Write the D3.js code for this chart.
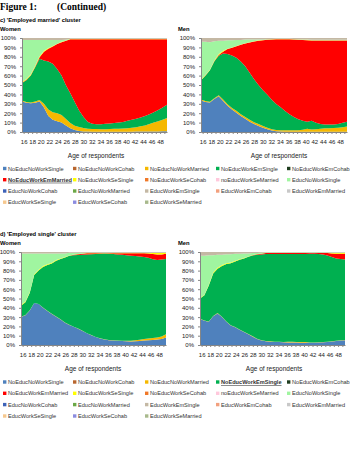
<!DOCTYPE html>
<html>
<head>
<meta charset="utf-8">
<title>Figure 1 (Continued)</title>
<script src="https://cdn.jsdelivr.net/npm/d3@7/dist/d3.min.js"></script>
<style>
body { margin: 0; background: #fff; }
svg text { font-family: "Liberation Sans", Arial, sans-serif; }
</style>
</head>
<body>
<div id="chart"></div>
<script>
// categories and tick labels
var ages = [16,17,18,19,20,21,22,23,24,25,26,27,28,29,30,31,32,33,34,35,36,37,38,39,40,41,42,43,44,45,46,47,48,49];
var xTickLabels = [16,18,20,22,24,26,28,30,32,34,36,38,40,42,44,46,48];
var yTickValues = [0,0.1,0.2,0.3,0.4,0.5,0.6,0.7,0.8,0.9,1];

var seriesNames = ["NoEducNoWorkSingle","NoEducNoWorkCohab","NoEducNoWorkMarried","NoEducWorkEmSingle","NoEducWorkEmCohab",
  "NoEducWorkEmMarried","NoEducWorkSeSingle","NoEducWorkSeCohab","noEducWorkSeMarried","EducNoWorkSingle",
  "EducNoWorkCohab","EducNoWorkMarried","EducWorkEmSingle","EducWorkEmCohab","EducWorkEmMarried",
  "EducWorkSeSingle","EducWorkSeCohab","EducWorkSeMarried"];
var seriesColors = ["#4f81bd","#b8662e","#f5b800","#00b050","#1f3d1f",
  "#ff0000","#ffff00","#f07828","#ffc8dc","#a0f5a0",
  "#3d62b8","#6ba846","#c4b8a4","#f2a07e","#c8c8c8",
  "#f6c88e","#8c8ce0","#a8b98c"];

// c) 'Employed married' cluster, women (% of respondents by age)
var cWomenNoEducNoWorkSingle = [32.5,31,30.5,31,32.5,26,17,13,11.5,10,7,4,2,1,0.5,0.4,0.3,0.3,0.3,0.3,0.3,0.3,0.3,0.3,0.3,0.3,0.4,0.4,0.4,0.5,0.5,0.6,0.7,0.8];
var cWomenNoEducNoWorkMarried = [1,1,1,1.5,1.5,4,7,8,8.5,8,7,5.5,4.7,4.3,3.7,3.1,2.9,2.9,2.7,2.7,2.9,3.2,3.2,3.5,3.7,4.2,4.6,5.6,6.6,8,9.5,10.9,12.3,14.2];
var cWomenNoEducWorkEmSingle = [18.5,23,28.5,36.5,44,46,51,51.5,47,42,36,31.5,25.3,17.7,11.8,7.1,5.7,5,5.2,5.9,5.8,6.1,6.5,6.8,8,8.5,9,9.5,10,10.5,11,12,13,14];
var cWomenNoEducWorkEmMarried = [0.3,0.5,0.5,0.5,1.5,9.5,13.5,18.5,26.5,35.5,47.5,57.3,66.8,75.8,82.8,88.2,89.9,90.6,90.6,89.9,89.8,89.2,88.8,88.2,86.8,85.8,84.8,83.3,81.8,79.8,77.8,75.3,72.8,69.8];
var cWomenNoEducWorkSeSingle = [0.8,0.8,1,1,1.2,1,0.8,0.6,0.5,0.5,0.4,0.2,0.2,0.2,0.2,0.2,0.2,0.2,0.2,0.2,0.2,0.2,0.2,0.2,0.2,0.2,0.2,0.2,0.2,0.2,0.2,0.2,0.2,0.2];
var cWomenEducNoWorkSingle = [44.9,41.7,36.5,27.5,17.3,11.5,8.7,6.4,4,2,0.6,0.3,0.3,0.3,0.3,0.3,0.3,0.3,0.3,0.3,0.3,0.3,0.3,0.3,0.3,0.3,0.3,0.3,0.3,0.3,0.3,0.3,0.3,0.3];
var cWomenEducWorkEmSingle = [2,2,2,2,2,2,2,2,2,2,2,0.8,0.8,0.8,0.8,0.8,0.8,0.8,0.8,0.8,0.8,0.8,0.8,0.8,0.8,0.8,0.8,0.8,0.8,0.8,0.8,0.8,0.8,0.8];

// c) men
var cMenNoEducNoWorkSingle = [33.5,32,31.5,35,38,33,28,24,20.5,17,14,11,8.5,6.5,4.5,2.8,1.5,0.8,0.5,0.3,0.3,0.3,0.3,0.3,0.3,0.3,0.3,0.3,0.3,0.3,0.3,0.3,0.3,0.3];
var cMenNoEducNoWorkMarried = [1,1,1,1,1,1.5,1.5,1.5,2,2,2,2,2,2,2,1.7,1.5,1.4,1.5,1.7,1.7,1.7,1.7,2.2,3.2,2.5,2.7,3.2,3.7,3.7,3.9,4.2,4.7,5.7];
var cMenNoEducWorkEmSingle = [20.5,27,33.5,39,42,49,53.5,56,56.5,56,54,50,45.5,41.5,38,35,31.5,27.8,24.5,20.5,17,14,11.5,9.5,7.5,9.2,7,5,4,4,3.8,4,5,5];
var cMenNoEducWorkEmMarried = [0.1,0.1,0.1,0.2,1,2,5.2,8.2,12.2,17.7,24.2,32.2,40.2,47.2,53.2,58.7,64.2,68.9,72.5,76.5,79.9,82.7,85,86.2,87,85.7,87.7,89.2,89.7,89.7,89.7,89.2,87.7,86.7];
var cMenNoEducWorkSeSingle = [0.5,0.5,0.5,0.8,1,1,0.3,0.3,0.3,0.3,0.3,0.3,0.3,0.3,0.3,0.3,0.3,0.3,0.3,0.3,0.3,0.3,0.3,0.3,0.3,0.3,0.3,0.3,0.3,0.3,0.3,0.3,0.3,0.3];
var cMenEducNoWorkSingle = [40.5,35.5,29.5,20.5,14,10.5,9,7.5,6.5,5,4,3,2,1,0.5,0.3,0.3,0.3,0.3,0.3,0.3,0.3,0.3,0.3,0.3,0.3,0.3,0.3,0.3,0.3,0.3,0.3,0.3,0.3];
var cMenEducWorkEmSingle = [4,4,4.5,3.5,3,3,2.5,2.5,2,2,1.5,1.5,1.5,1.5,1.5,1.2,1,0.8,0.7,0.7,0.8,1,1.2,1.5,1.7,2,2,2,2,2,2,2,2,2];

// d) 'Employed single' cluster, women
var dWomenNoEducNoWorkSingle = [30,32,37,45,44,40,36.5,33.5,30.5,27.5,24,21.5,19.5,17.5,15,12.5,10.5,8.5,7,6,5.2,4.8,4.5,4.3,4,3.8,4,4.3,4.8,5.2,5.5,6,6.5,8];
var dWomenNoEducNoWorkMarried = [0.2,0.2,0.2,0.2,0.2,0.2,0.2,0.2,0.2,0.2,0.2,0.2,0.2,0.2,0.2,0.2,0.2,0.2,0.2,0.2,0.2,0.2,0.2,0.2,0.5,0.8,1,1.2,1.5,1.8,2,2.2,2.8,3.5];
var dWomenNoEducWorkEmSingle = [11.8,13.8,18.8,29.8,35.8,43.8,49.3,54.3,60.3,65.3,70.3,73.8,76.8,79.3,81.8,84.3,86.8,89.3,91.3,92.3,92.6,92.5,92.3,92,91.5,90.9,90,89,87.7,86.5,85,83.8,83.2,81.5];
var dWomenNoEducWorkEmMarried = [0,0,0,0,0,0,0,0,0,0,0,0.2,0.5,0.8,1,1.2,1,0.8,0.5,0.3,0.5,0.8,1.2,1.5,2,2.5,3,3.5,4,4.5,5.5,6,5.5,5.5];
var dWomenNoEducWorkSeSingle = [0.8,0.8,1,1,1,1,0.8,0.8,0.8,0.6,0.5,0.2,0.2,0.2,0.2,0.2,0.2,0.2,0.2,0.2,0.2,0.2,0.2,0.2,0.2,0.2,0.2,0.2,0.2,0.5,1,1.5,1.5,0.8];
var dWomenEducNoWorkSingle = [55.5,51.5,41.3,22.3,17.5,13.5,11.7,10,7.2,5.4,4,3,2,1.5,1,0.5,0.5,0.5,0.5,0.5,0.5,0.5,0.5,0.5,0.5,0.5,0.5,0.5,0.5,0.5,0.5,0.5,0.5,0.5];
var dWomenEducWorkEmSingle = [1.5,1.5,1.5,1.5,1.5,1.5,1.5,1.5,1.5,1.5,1.5,0.7,0.7,0.7,0.7,0.7,0.7,0.7,0.7,0.7,0.7,0.7,0.7,0.7,0.7,0.7,0.7,0.7,0.7,0.7,0.7,0.7,0.7,0.7];

// d) men
var dMenNoEducNoWorkSingle = [28,26,25,31,34,30,25,21,19,16.5,14,11.5,9,6.5,4.8,4,3.6,3.3,3.1,3,2.8,2.7,2.6,2.5,2.4,2.4,2.5,2.7,3,3.3,3.8,4.2,4.8,5];
var dMenNoEducNoWorkMarried = [0.3,0.3,0.3,0.3,0.3,0.3,0.3,0.3,0.3,0.3,0.3,0.3,0.3,0.3,0.3,0.3,0.3,0.3,0.3,0.3,0.7,0.7,0.7,0.7,0.7,0.3,0.3,0.3,0.3,0.3,0.3,0.3,0.3,0.3];
var dMenNoEducWorkEmSingle = [21.7,27.2,38.7,45.7,47.7,54.7,61.7,66.7,70.5,74.8,78.7,83.2,87.1,90.2,92.4,93.2,93.6,93.9,94.2,94.3,94.1,94.2,94.3,94.4,94.5,94.9,94.7,94.3,93.5,92.4,90.4,89,87.7,86.7];
var dMenNoEducWorkEmMarried = [0,0,0,0,0,0,0,0,0,0,0,0,0.3,0.5,0.8,1,1,1,1,1,1,1,1,1,1,0.8,0.8,1,1.5,2.5,4,5,5.5,6];
var dMenNoEducWorkSeSingle = [0.5,0.5,0.8,1,1,1,1,0.8,0.8,0.6,0.5,0.2,0.2,0.2,0.2,0.2,0.2,0.2,0.2,0.2,0.2,0.2,0.2,0.2,0.2,0.2,0.2,0.2,0.2,0.2,0.5,1,1,1];
var dMenEducNoWorkSingle = [45.5,42,31.7,18.5,14,11,9.5,8.7,7.4,5.8,5,3.3,2.1,1.2,0.8,0.4,0.4,0.4,0.4,0.4,0.4,0.4,0.4,0.4,0.4,0.4,0.4,0.4,0.4,0.4,0.4,0.4,0.4,0.4];
var dMenEducWorkEmSingle = [4,4,3.5,3.5,3,3,2.5,2.5,2,2,1.5,1.5,1.2,1,0.8,0.6,0.6,0.6,0.6,0.6,0.6,0.6,0.6,0.6,0.6,0.6,0.6,0.6,0.6,0.6,0.6,0.6,0.6,0.6];

function buildRows(parts) {
  return ages.map(function(a, i) {
    var row = { age: a };
    seriesNames.forEach(function(s) { row[s] = parts[s] ? parts[s][i] : 0; });
    return row;
  });
}

var panels = [
  { label: "Women", lx: 0, ly: 31, x0: 22, x1: 167, top: 38, bottom: 132, titleX: 96, titleY: 157.5,
    rows: buildRows({ NoEducNoWorkSingle: cWomenNoEducNoWorkSingle, NoEducNoWorkMarried: cWomenNoEducNoWorkMarried,
      NoEducWorkEmSingle: cWomenNoEducWorkEmSingle, NoEducWorkEmMarried: cWomenNoEducWorkEmMarried,
      NoEducWorkSeSingle: cWomenNoEducWorkSeSingle, EducNoWorkSingle: cWomenEducNoWorkSingle, EducWorkEmSingle: cWomenEducWorkEmSingle }) },
  { label: "Men", lx: 178, ly: 31, x0: 201, x1: 347, top: 38, bottom: 132, titleX: 279, titleY: 157.5,
    rows: buildRows({ NoEducNoWorkSingle: cMenNoEducNoWorkSingle, NoEducNoWorkMarried: cMenNoEducNoWorkMarried,
      NoEducWorkEmSingle: cMenNoEducWorkEmSingle, NoEducWorkEmMarried: cMenNoEducWorkEmMarried,
      NoEducWorkSeSingle: cMenNoEducWorkSeSingle, EducNoWorkSingle: cMenEducNoWorkSingle, EducWorkEmSingle: cMenEducWorkEmSingle }) },
  { label: "Women", lx: 0, ly: 244.5, x0: 21, x1: 166, top: 252, bottom: 345, titleX: 93, titleY: 371,
    rows: buildRows({ NoEducNoWorkSingle: dWomenNoEducNoWorkSingle, NoEducNoWorkMarried: dWomenNoEducNoWorkMarried,
      NoEducWorkEmSingle: dWomenNoEducWorkEmSingle, NoEducWorkEmMarried: dWomenNoEducWorkEmMarried,
      NoEducWorkSeSingle: dWomenNoEducWorkSeSingle, EducNoWorkSingle: dWomenEducNoWorkSingle, EducWorkEmSingle: dWomenEducWorkEmSingle }) },
  { label: "Men", lx: 178, ly: 244.5, x0: 200, x1: 345, top: 252, bottom: 345, titleX: 274, titleY: 371,
    rows: buildRows({ NoEducNoWorkSingle: dMenNoEducNoWorkSingle, NoEducNoWorkMarried: dMenNoEducNoWorkMarried,
      NoEducWorkEmSingle: dMenNoEducWorkEmSingle, NoEducWorkEmMarried: dMenNoEducWorkEmMarried,
      NoEducWorkSeSingle: dMenNoEducWorkSeSingle, EducNoWorkSingle: dMenEducNoWorkSingle, EducWorkEmSingle: dMenEducWorkEmSingle }) }
];

var svg = d3.select("#chart").append("svg").attr("width", 351).attr("height", 462);
var color = d3.scaleOrdinal().domain(seriesNames).range(seriesColors);

// headings
svg.append("text").attr("x", 0).attr("y", 10).style("font-family", "'Liberation Serif', 'Times New Roman', serif")
  .style("font-weight", "bold").style("font-size", "9.5px").text("Figure 1:");
svg.append("text").attr("x", 57).attr("y", 10).style("font-family", "'Liberation Serif', 'Times New Roman', serif")
  .style("font-weight", "bold").style("font-size", "9.5px").text("(Continued)");
svg.append("text").attr("x", 0).attr("y", 22).style("font-weight", "bold").style("font-size", "5.8px")
  .text("c) 'Employed married' cluster");
svg.append("text").attr("x", 0).attr("y", 236).style("font-weight", "bold").style("font-size", "5.8px")
  .text("d) 'Employed single' cluster");

var stack = d3.stack().keys(seriesNames).offset(d3.stackOffsetExpand);

panels.forEach(function(p) {
  var x = d3.scalePoint().domain(ages).range([p.x0, p.x1]);
  var xb = d3.scaleBand().domain(ages).range([p.x0, p.x1]);
  var y = d3.scaleLinear().domain([0, 1]).range([p.bottom, p.top]);
  var area = d3.area()
    .x(function(d) { return x(d.data.age); })
    .y0(function(d) { return y(d[0]); })
    .y1(function(d) { return y(d[1]); });

  svg.append("text").attr("x", p.lx).attr("y", p.ly).style("font-weight", "bold").style("font-size", "5.8px").text(p.label);

  var g = svg.append("g");
  g.selectAll("path.layer").data(stack(p.rows)).enter().append("path")
    .attr("class", "layer")
    .attr("d", area)
    .attr("fill", function(d) { return color(d.key); });

  // y axis
  var ya = svg.append("g").attr("transform", "translate(" + p.x0 + ",0)")
    .call(d3.axisLeft(y).tickValues(yTickValues).tickFormat(d3.format(".0%")).tickSize(2).tickPadding(4));
  ya.select(".domain").attr("stroke", "#868686");
  ya.selectAll(".tick line").attr("stroke", "#868686");
  ya.selectAll("text").style("font-size", "6px").attr("fill", "#222");

  // x axis
  var xa = svg.append("g").attr("transform", "translate(0," + p.bottom + ")")
    .call(d3.axisBottom(xb).tickSize(2).tickSizeOuter(0)
      .tickFormat(function(d) { return xTickLabels.indexOf(d) >= 0 ? d : ""; }));
  xa.select(".domain").attr("stroke", "#868686");
  xa.selectAll(".tick line").attr("stroke", "#868686");
  xa.selectAll("text").attr("y", 11.5).attr("dy", null).style("font-size", "6px").attr("fill", "#222");

  svg.append("text").attr("x", p.titleX).attr("y", p.titleY).attr("text-anchor", "middle")
    .style("font-size", "6.5px").attr("fill", "#222").text("Age of respondents");
});

// legends
var legendCols = [3, 73, 145, 216, 287];
function drawLegend(rowY, boldName) {
  var lg = svg.append("g");
  var items = lg.selectAll("g").data(seriesNames).enter().append("g")
    .attr("transform", function(d, i) {
      return "translate(" + legendCols[i % 5] + "," + (rowY[Math.floor(i / 5)]) + ")";
    });
  items.append("rect").attr("x", 0).attr("y", -1.7).attr("width", 3.4).attr("height", 3.4)
    .attr("fill", function(d) { return color(d); });
  items.append("text").attr("x", 5).attr("y", 2)
    .style("font-size", "5.6px").attr("fill", "#333")
    .style("font-weight", function(d) { return d === boldName ? "bold" : "normal"; })
    .style("text-decoration", function(d) { return d === boldName ? "underline" : "none"; })
    .text(function(d) { return d; });
}
drawLegend([168.5, 179.7, 191, 202.2], "NoEducWorkEmMarried");
drawLegend([382, 393.3, 404.6, 416], "NoEducWorkEmSingle");
</script>
</body>
</html>
